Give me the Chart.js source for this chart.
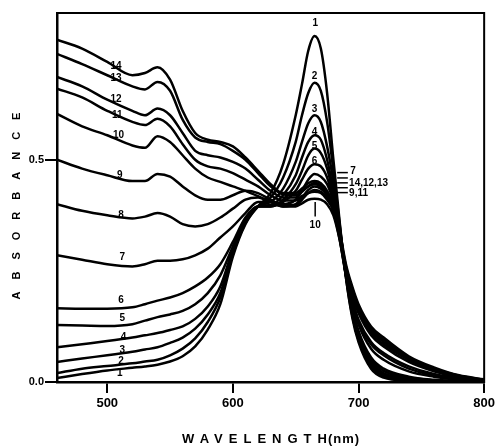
<!DOCTYPE html>
<html>
<head>
<meta charset="utf-8">
<script src="https://cdn.jsdelivr.net/npm/chart.js@4.4.0/dist/chart.umd.min.js"></script>
<style>
	html, body { margin: 0; padding: 0; background: #fff; }
</style>
</head>
<body>
<canvas id="spectra" width="498" height="448"></canvas>
<script>
// wavelength grid (nm) shared by every curve
var wavelengths = [460,480,500,520,530,540,550,560,570,580,590,600,610,620,630,640,650,655,660,665,670,675,680,685,690,695,700,710,720,740,760,780,800];

// absorbance, curve 1 .. 14
var curve1  = [0.009,0.018,0.026,0.032,0.035,0.039,0.046,0.058,0.080,0.118,0.175,0.282,0.355,0.395,0.425,0.490,0.600,0.670,0.745,0.778,0.750,0.650,0.500,0.360,0.235,0.145,0.090,0.030,0.010,0.003,0.001,0.000,0.000];
var curve2  = [0.020,0.030,0.036,0.042,0.046,0.050,0.060,0.075,0.098,0.135,0.190,0.288,0.358,0.395,0.415,0.460,0.540,0.600,0.650,0.673,0.655,0.585,0.475,0.355,0.235,0.150,0.095,0.035,0.013,0.004,0.001,0.000,0.000];
var curve3  = [0.045,0.053,0.060,0.068,0.073,0.078,0.088,0.100,0.120,0.152,0.200,0.292,0.360,0.395,0.405,0.435,0.495,0.540,0.582,0.600,0.585,0.530,0.450,0.350,0.240,0.155,0.100,0.040,0.016,0.005,0.002,0.000,0.000];
var curve4  = [0.078,0.085,0.092,0.100,0.105,0.110,0.117,0.125,0.142,0.170,0.215,0.298,0.362,0.395,0.398,0.420,0.465,0.505,0.540,0.555,0.545,0.500,0.430,0.345,0.240,0.160,0.105,0.045,0.020,0.008,0.003,0.001,0.000];
var curve5  = [0.128,0.127,0.126,0.130,0.138,0.146,0.152,0.160,0.175,0.200,0.240,0.305,0.365,0.395,0.395,0.410,0.445,0.475,0.510,0.525,0.515,0.480,0.420,0.340,0.240,0.165,0.110,0.050,0.025,0.010,0.004,0.001,0.000];
var curve6  = [0.166,0.165,0.165,0.168,0.175,0.183,0.190,0.200,0.215,0.235,0.265,0.315,0.370,0.395,0.395,0.405,0.430,0.455,0.480,0.490,0.485,0.460,0.410,0.340,0.245,0.170,0.115,0.055,0.030,0.012,0.005,0.002,0.000];
var curve7  = [0.285,0.275,0.265,0.260,0.265,0.273,0.273,0.276,0.285,0.300,0.325,0.350,0.380,0.405,0.405,0.400,0.410,0.430,0.455,0.468,0.462,0.445,0.405,0.335,0.245,0.180,0.130,0.075,0.050,0.024,0.012,0.005,0.002];
var curve8  = [0.400,0.385,0.375,0.368,0.372,0.380,0.372,0.355,0.350,0.355,0.370,0.390,0.410,0.415,0.405,0.395,0.400,0.415,0.432,0.440,0.435,0.420,0.390,0.325,0.240,0.180,0.135,0.085,0.060,0.030,0.015,0.007,0.002];
var curve9  = [0.500,0.480,0.465,0.452,0.452,0.468,0.462,0.440,0.420,0.410,0.410,0.420,0.430,0.425,0.410,0.398,0.398,0.410,0.425,0.432,0.428,0.415,0.385,0.320,0.240,0.185,0.140,0.090,0.065,0.035,0.018,0.008,0.003];
var curve10 = [0.603,0.575,0.555,0.532,0.527,0.553,0.540,0.510,0.480,0.460,0.450,0.440,0.430,0.418,0.405,0.395,0.395,0.402,0.410,0.412,0.410,0.400,0.375,0.320,0.245,0.195,0.155,0.105,0.080,0.045,0.024,0.010,0.004];
var curve11 = [0.660,0.640,0.610,0.585,0.578,0.592,0.575,0.535,0.500,0.485,0.480,0.470,0.455,0.440,0.420,0.408,0.408,0.418,0.425,0.428,0.425,0.410,0.385,0.325,0.250,0.200,0.160,0.110,0.085,0.050,0.027,0.011,0.004];
var curve12 = [0.686,0.665,0.635,0.610,0.600,0.615,0.600,0.560,0.520,0.510,0.505,0.495,0.480,0.455,0.430,0.415,0.415,0.428,0.440,0.448,0.442,0.425,0.395,0.330,0.255,0.205,0.165,0.115,0.090,0.052,0.028,0.012,0.005];
var curve13 = [0.738,0.715,0.690,0.665,0.658,0.675,0.655,0.590,0.550,0.540,0.535,0.520,0.500,0.470,0.440,0.422,0.420,0.430,0.440,0.445,0.440,0.425,0.395,0.335,0.260,0.210,0.170,0.120,0.095,0.055,0.030,0.014,0.005];
var curve14 = [0.770,0.750,0.720,0.690,0.695,0.708,0.680,0.610,0.560,0.545,0.540,0.530,0.505,0.475,0.445,0.425,0.425,0.435,0.447,0.452,0.447,0.430,0.400,0.340,0.265,0.215,0.175,0.125,0.100,0.058,0.033,0.015,0.006];

var xTicks = [500,600,700,800];
var yTicks = [0.0,0.5];

// curve numbers written on the figure (text, wavelength, absorbance, align)
var labelText  = ["14","13","12","11","10","9","8","7","6","5","4","3","2","1", "1","2","3","4","5","6","10", "7","14,12,13","9,11"];
var labelWl    = [507,507,507,508,509,510,511,512,511,512,513,512,511,510, 665.5,665,665,665,665,665,665.5, 693.5,692.5,692.5];
var labelAbs   = [0.711,0.684,0.635,0.600,0.554,0.465,0.374,0.280,0.184,0.143,0.100,0.072,0.046,0.020, 0.806,0.688,0.613,0.562,0.530,0.496,0.352, 0.474,0.447,0.424];
var labelAlign = ["center","center","center","center","center","center","center","center","center","center","center","center","center","center", "center","center","center","center","center","center","center", "left","left","left"];
var pointerAbs = [0.471,0.459,0.448,0.437,0.426];

var curves = [curve1,curve2,curve3,curve4,curve5,curve6,curve7,curve8,curve9,curve10,curve11,curve12,curve13,curve14];
var datasets = [];
for (var c = 0; c < curves.length; c++) {
	var pts = [];
	for (var i = 0; i < wavelengths.length; i++) pts.push({x: wavelengths[i], y: curves[c][i]});
	datasets.push({
		label: "" + (c + 1),
		data: pts,
		borderColor: "#000",
		borderWidth: 2.5,
		pointRadius: 0,
		fill: false,
		cubicInterpolationMode: "monotone"
	});
}

var FONT = '"Liberation Sans", Arial, sans-serif';

// frame, curve numbers and axis titles
var extras = {
	id: "extras",
	afterDraw: function(chart) {
		var ctx = chart.ctx, a = chart.chartArea;
		var xs = chart.scales.x, ys = chart.scales.y;
		ctx.save();
		ctx.strokeStyle = "#000";
		ctx.lineWidth = 2;
		ctx.strokeRect(a.left, a.top, a.right - a.left, a.bottom - a.top);

		ctx.fillStyle = "#000";
		ctx.font = "bold 10px " + FONT;
		ctx.textBaseline = "middle";
		for (var i = 0; i < labelText.length; i++) {
			ctx.textAlign = labelAlign[i];
			ctx.fillText(labelText[i], xs.getPixelForValue(labelWl[i]), ys.getPixelForValue(labelAbs[i]));
		}
		ctx.lineWidth = 1.5;
		for (var p = 0; p < pointerAbs.length; p++) {
			ctx.beginPath();
			ctx.moveTo(xs.getPixelForValue(683), ys.getPixelForValue(pointerAbs[p]));
			ctx.lineTo(xs.getPixelForValue(691.5), ys.getPixelForValue(pointerAbs[p]));
			ctx.stroke();
		}
		ctx.beginPath();
		ctx.moveTo(xs.getPixelForValue(665.5), ys.getPixelForValue(0.372));
		ctx.lineTo(xs.getPixelForValue(665.5), ys.getPixelForValue(0.405));
		ctx.stroke();

		// axis titles, widely letter-spaced
		ctx.textAlign = "left";
		ctx.font = "bold 13px " + FONT;
		ctx.letterSpacing = "6px";
		var t1 = "WAVELENGTH";
		var w1 = ctx.measureText(t1).width;
		ctx.letterSpacing = "1px";
		var t2 = "(nm)";
		var w2 = ctx.measureText(t2).width;
		var x0 = (a.left + a.right) / 2 + 3 - (w1 + w2) / 2;
		ctx.letterSpacing = "6px";
		ctx.fillText(t1, x0, 439);
		ctx.letterSpacing = "1px";
		ctx.fillText(t2, x0 + w1 - 5, 439);

		ctx.font = "bold 11px " + FONT;
		ctx.letterSpacing = "12px";
		var t3 = "ABSORBANCE";
		var w3 = ctx.measureText(t3).width - 12;
		ctx.translate(17, 206);
		ctx.rotate(-Math.PI / 2);
		ctx.fillText(t3, -w3 / 2, 0);
		ctx.restore();
	}
};

var ctx = document.getElementById("spectra").getContext("2d");
new Chart(ctx, {
	type: "line",
	data: { datasets: datasets },
	options: {
		responsive: false,
		animation: false,
		devicePixelRatio: 1,
		layout: { padding: { top: 13, right: 11, left: 0, bottom: 0 } },
		plugins: { legend: { display: false }, tooltip: { enabled: false } },
		scales: {
			x: {
				type: "linear",
				min: 460,
				max: 800,
				afterBuildTicks: function(s) { s.ticks = xTicks.map(function(v) { return {value: v}; }); },
				afterFit: function(s) { s.height = 66; },
				border: { display: true, width: 2.5, color: "#000" },
				grid: { drawOnChartArea: false, drawTicks: true, tickLength: 11, color: "#000", lineWidth: 2 },
				ticks: { color: "#000", padding: 3, maxRotation: 0, font: { family: FONT, size: 13, weight: "bold" } }
			},
			y: {
				min: 0,
				max: 0.83,
				afterBuildTicks: function(s) { s.ticks = yTicks.map(function(v) { return {value: v}; }); },
				afterFit: function(s) { s.width = 57; },
				border: { display: true, width: 2.5, color: "#000" },
				grid: { drawOnChartArea: false, drawTicks: true, tickLength: 12, color: "#000", lineWidth: 2 },
				ticks: {
					color: "#000",
					padding: 1,
					font: { family: FONT, size: 11, weight: "bold" },
					callback: function(v) { return Number(v).toFixed(1); }
				}
			}
		}
	},
	plugins: [extras]
});
</script>
</body>
</html>
